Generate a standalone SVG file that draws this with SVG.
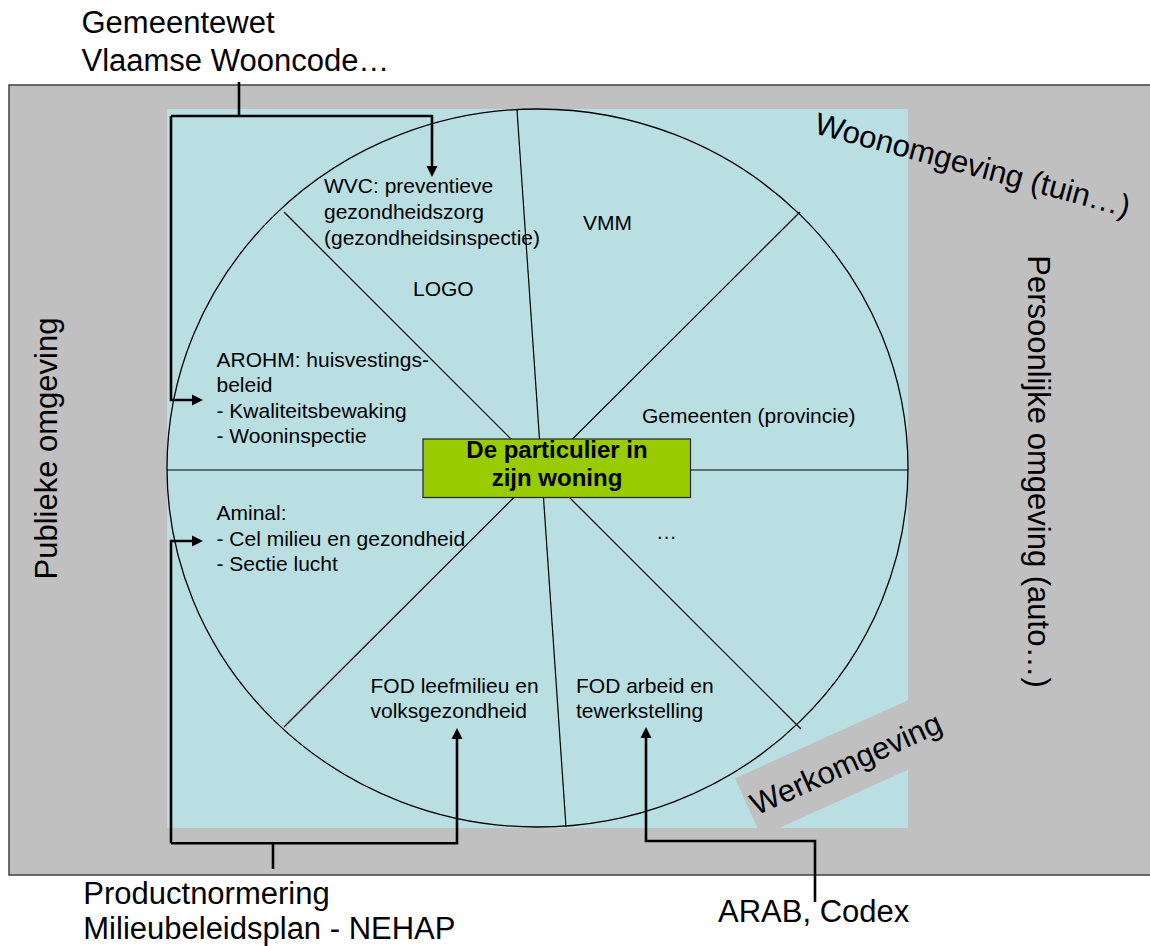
<svg xmlns="http://www.w3.org/2000/svg" width="1150" height="946" viewBox="0 0 1150 946">
<defs>
<style>
text{font-family:"Liberation Sans",Arial,sans-serif;fill:#000}
.big{font-size:31px}
.small{font-size:21px}
.bold{font-size:24px;font-weight:bold}
.spoke{stroke:#000;stroke-width:1.2;fill:none}
.conn{stroke:#000;stroke-width:2.6;fill:none}
</style>
<marker id="arr" markerUnits="userSpaceOnUse" markerWidth="14" markerHeight="14" viewBox="0 -7 14 14" refX="0" refY="0" orient="auto">
<path d="M0,-5.5 L11,0 L0,5.5 z" fill="#000"/>
</marker>
</defs>
<g id="background">
<rect x="9" y="85" width="1160" height="790" fill="#C0C0C0" stroke="#404040" stroke-width="1.5"/>
<rect x="167" y="109" width="741" height="719" fill="#BADFE3"/>
</g>
<g id="wheel">
<ellipse cx="537.5" cy="468" rx="370.5" ry="359" fill="none" stroke="#000" stroke-width="1.3"/>
<line class="spoke" x1="284" y1="212" x2="801" y2="729"/>
<line class="spoke" x1="800" y1="212" x2="284" y2="727"/>
<line class="spoke" x1="517" y1="110" x2="566" y2="827"/>
<line class="spoke" x1="167" y1="470" x2="908" y2="470"/>
</g>
<g id="werkomgeving" transform="translate(735,778.3) rotate(-24.3)">
<rect x="0" y="0" width="250" height="63.5" fill="#C0C0C0"/>
<text class="big" x="4" y="43">Werkomgeving</text>
</g>
<g id="center-node">
<rect x="423" y="439" width="267.5" height="58.5" fill="#99CC00" stroke="#222" stroke-width="1.2"/>
<text class="bold" x="557" y="457.5" text-anchor="middle">De particulier in</text>
<text class="bold" x="557" y="485.5" text-anchor="middle">zijn woning</text>
</g>
<g id="seg-wvc">
<text class="small" x="324" y="193">WVC: preventieve</text>
<text class="small" x="324" y="219">gezondheidszorg</text>
<text class="small" x="324" y="244.5">(gezondheidsinspectie)</text>
</g>
<g id="seg-logo"><text class="small" x="413" y="296">LOGO</text></g>
<g id="seg-vmm"><text class="small" x="583" y="229.5">VMM</text></g>
<g id="seg-gemeenten"><text class="small" x="642" y="422.5">Gemeenten (provincie)</text></g>
<g id="seg-arohm">
<text class="small" x="216.5" y="367">AROHM: huisvestings-</text>
<text class="small" x="216.5" y="392">beleid</text>
<text class="small" x="216.5" y="418">- Kwaliteitsbewaking</text>
<text class="small" x="216.5" y="443">- Wooninspectie</text>
</g>
<g id="seg-aminal">
<text class="small" x="216.5" y="520">Aminal:</text>
<text class="small" x="216.5" y="545.5">- Cel milieu en gezondheid</text>
<text class="small" x="216.5" y="570.5">- Sectie lucht</text>
</g>
<g id="seg-dots"><text class="small" x="656" y="539">…</text></g>
<g id="seg-fod-leefmilieu">
<text class="small" x="370.5" y="693">FOD leefmilieu en</text>
<text class="small" x="370.5" y="718">volksgezondheid</text>
</g>
<g id="seg-fod-arbeid">
<text class="small" x="576" y="693">FOD arbeid en</text>
<text class="small" x="576" y="718">tewerkstelling</text>
</g>
<g id="label-publiek"><text class="big" transform="translate(57,448.5) rotate(-90)" text-anchor="middle">Publieke omgeving</text></g>
<g id="label-persoonlijk"><text class="big" transform="translate(1028,471.5) rotate(90)" text-anchor="middle">Persoonlijke omgeving (auto…)</text></g>
<g id="label-woon"><text class="big" transform="translate(813,133) rotate(15)">Woonomgeving (tuin…)</text></g>
<g id="label-gemeentewet">
<text class="big" x="81.5" y="33">Gemeentewet</text>
<text class="big" x="81.5" y="71">Vlaamse Wooncode…</text>
</g>
<g id="label-product">
<text class="big" x="83.3" y="904">Productnormering</text>
<text class="big" x="83.3" y="939">Milieubeleidsplan - NEHAP</text>
</g>
<g id="label-arab"><text class="big" x="718" y="922">ARAB, Codex</text></g>
<g id="connectors">
<path class="conn" d="M239,82 V116"/>
<path class="conn" d="M171,116 H432 V166" marker-end="url(#arr)"/>
<path class="conn" d="M171,116 V400 H192" marker-end="url(#arr)"/>
<path class="conn" d="M273,869 V843.3"/>
<path class="conn" d="M171,843.3 H457 V739" marker-end="url(#arr)"/>
<path class="conn" d="M171,843.3 V541 H192" marker-end="url(#arr)"/>
<path class="conn" d="M815,902 V841 H646 V738" marker-end="url(#arr)"/>
</g>
</svg>
